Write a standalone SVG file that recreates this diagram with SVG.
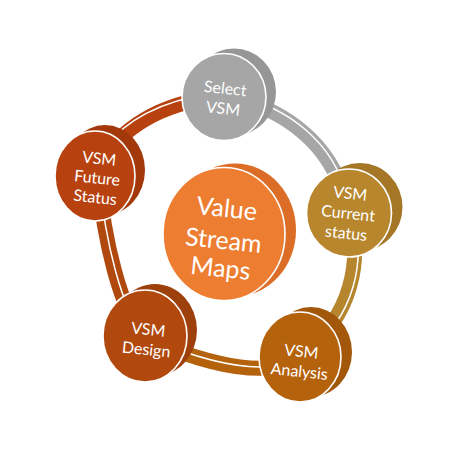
<svg xmlns="http://www.w3.org/2000/svg" width="450" height="450" viewBox="0 0 450 450">
<style>
.band{fill:none;stroke-width:15;stroke-linecap:butt}
.wl{fill:none;stroke:#fff;stroke-width:1.5}
.face{stroke:#fff;stroke-width:1.6}
.t{font-family:Lato,"Open Sans","Liberation Sans",sans-serif;fill:#fff;text-anchor:middle;font-size:16px}
.tc{font-size:25px}
</style>
<rect width="450" height="450" fill="#fff"/>
<g id="connectors">
<path class="band" stroke="#B8420F" d="M 100 165 C 120 128, 160 104, 215 97"/>
<path class="wl" transform="translate(-1.5,-3.5)" d="M 108 150 C 125 126, 160 104, 215 97"/>
<path class="band" stroke="#A6A6A6" d="M 240 100 C 280 110, 330 140, 345 200"/>
<path class="wl" transform="translate(2.5,-2.5)" d="M 240 100 C 280 110, 330 140, 345 200"/>
<path class="band" stroke="#B5862E" d="M 350 215 C 362 260, 352 315, 305 352"/>
<path class="wl" transform="translate(3.5,0)" d="M 350 215 C 362 260, 352 315, 305 352"/>
<path class="band" stroke="#B5620C" d="M 300 360 C 270 375, 220 370, 150 340"/>
<path class="wl" transform="translate(0,-1.5)" d="M 300 360 C 270 375, 220 370, 150 340"/>
<path class="band" stroke="#B1490E" d="M 145 338 C 120 310, 104 240, 98 176"/>
<path class="wl" transform="translate(1,0)" d="M 145 338 C 120 310, 104 240, 98 176"/>
</g>
<g id="select">
<ellipse cx="234" cy="92" rx="42" ry="43.5" fill="#969696"/>
<ellipse class="face" cx="224" cy="97" rx="42" ry="43.5" fill="#A6A6A6"/>
<g transform="rotate(6 224 100)"><text class="t" x="224" y="94">Select</text><text class="t" x="224" y="114">VSM</text></g>
</g>
<g id="current">
<ellipse cx="360" cy="207" rx="42.5" ry="44" fill="#A47625"/>
<ellipse class="face" cx="349" cy="213" rx="42.5" ry="44" fill="#B7862D"/>
<g transform="rotate(6 349 215)"><text class="t" x="348" y="199">VSM</text><text class="t" x="348" y="219">Current</text><text class="t" x="348" y="239">status</text></g>
</g>
<g id="analysis">
<ellipse cx="311" cy="352" rx="41" ry="45" fill="#A2570A"/>
<ellipse class="face" cx="300" cy="357" rx="41" ry="45" fill="#B5620C"/>
<g transform="rotate(6 300 365)"><text class="t" x="300" y="357">VSM</text><text class="t" x="300" y="377">Analysis</text></g>
</g>
<g id="design">
<ellipse cx="155" cy="330" rx="42" ry="46" fill="#9D400B"/>
<ellipse class="face" cx="145" cy="336" rx="42" ry="46" fill="#B1490E"/>
<g transform="rotate(6 147 342)"><text class="t" x="147" y="335">VSM</text><text class="t" x="147" y="355">Design</text></g>
</g>
<g id="future">
<ellipse cx="105" cy="170" rx="40" ry="45" fill="#A3390B"/>
<ellipse class="face" cx="95" cy="176" rx="40" ry="45" fill="#B8420F"/>
<g transform="rotate(6 97 180)"><text class="t" x="97" y="164">VSM</text><text class="t" x="97" y="183.5">Future</text><text class="t" x="97" y="203">Status</text></g>
</g>
<g id="center">
<ellipse cx="235" cy="230" rx="61" ry="66.5" fill="#DB6D26"/>
<ellipse class="face" cx="224" cy="234" rx="61" ry="66.5" fill="#ED7D31"/>
<g transform="rotate(6 223 245)"><text class="t tc" x="223" y="217">Value</text><text class="t tc" x="223" y="249">Stream</text><text class="t tc" x="223" y="277">Maps</text></g>
</g>
</svg>
